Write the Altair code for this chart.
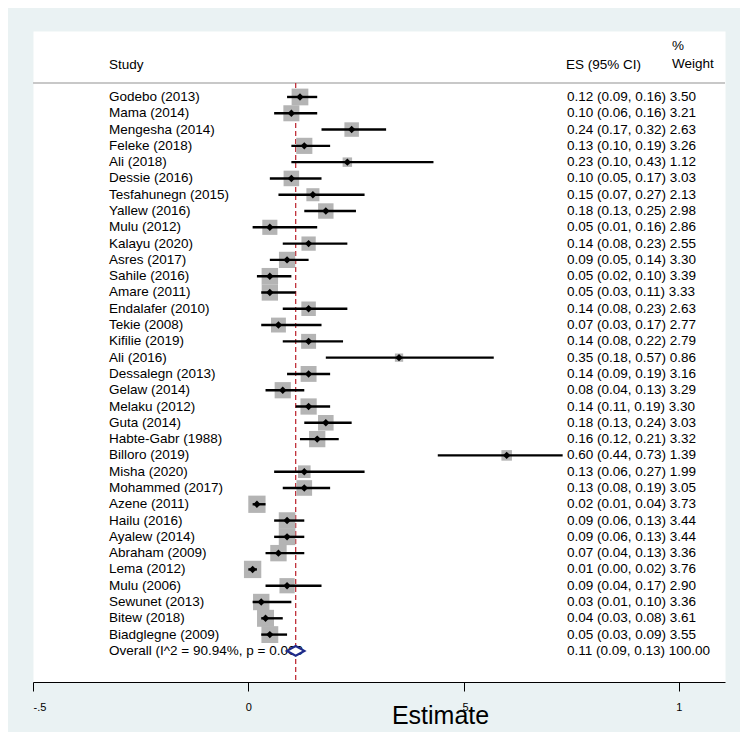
import altair as alt
import pandas as pd

studies = ["Godebo (2013)", "Mama (2014)", "Mengesha (2014)", "Feleke (2018)", "Ali (2018)",
           "Dessie (2016)", "Tesfahunegn  (2015)", "Yallew (2016)", "Mulu (2012)", "Kalayu (2020)",
           "Asres (2017)", "Sahile (2016)", "Amare (2011)", "Endalafer (2010)", "Tekie (2008)",
           "Kifilie  (2019)", "Ali (2016)", "Dessalegn (2013)", "Gelaw (2014)", "Melaku  (2012)",
           "Guta (2014)", "Habte-Gabr (1988)", "Billoro (2019)", "Misha (2020)", "Mohammed (2017)",
           "Azene (2011)", "Hailu (2016)", "Ayalew (2014)", "Abraham (2009)", "Lema (2012)",
           "Mulu (2006)", "Sewunet (2013)", "Bitew (2018)", "Biadglegne (2009)"]
es = [0.12, 0.10, 0.24, 0.13, 0.23, 0.10, 0.15, 0.18, 0.05, 0.14,
      0.09, 0.05, 0.05, 0.14, 0.07, 0.14, 0.35, 0.14, 0.08, 0.14,
      0.18, 0.16, 0.60, 0.13, 0.13, 0.02, 0.09, 0.09, 0.07, 0.01,
      0.09, 0.03, 0.04, 0.05]
lo = [0.09, 0.06, 0.17, 0.10, 0.10, 0.05, 0.07, 0.13, 0.01, 0.08,
      0.05, 0.02, 0.03, 0.08, 0.03, 0.08, 0.18, 0.09, 0.04, 0.11,
      0.13, 0.12, 0.44, 0.06, 0.08, 0.01, 0.06, 0.06, 0.04, 0.00,
      0.04, 0.01, 0.03, 0.03]
hi = [0.16, 0.16, 0.32, 0.19, 0.43, 0.17, 0.27, 0.25, 0.16, 0.23,
      0.14, 0.10, 0.11, 0.23, 0.17, 0.22, 0.57, 0.19, 0.13, 0.19,
      0.24, 0.21, 0.73, 0.27, 0.19, 0.04, 0.13, 0.13, 0.13, 0.02,
      0.17, 0.10, 0.08, 0.09]
wt = [3.50, 3.21, 2.63, 3.26, 1.12, 3.03, 2.13, 2.98, 2.86, 2.55,
      3.30, 3.39, 3.33, 2.63, 2.77, 2.79, 0.86, 3.16, 3.29, 3.30,
      3.03, 3.32, 1.39, 1.99, 3.05, 3.73, 3.44, 3.44, 3.36, 3.76,
      2.90, 3.36, 3.61, 3.55]

overall_label = "Overall  (I^2 = 90.94%, p = 0.000"
overall_es, overall_lo, overall_hi, overall_wt = 0.11, 0.09, 0.13, 100.00

tick_values = [-0.5, 0, 0.5, 1]
tick_labels = ["-.5", "0", ".5", "1"]

# ---- tables
df = pd.DataFrame({"study": studies, "es": es, "lo": lo, "hi": hi, "wt": wt,
                   "row": list(range(len(studies)))})
ov = pd.DataFrame({"study": [overall_label], "es": [overall_es], "lo": [overall_lo],
                   "hi": [overall_hi], "wt": [overall_wt], "row": [len(studies)]})
allrows = pd.concat([df, ov], ignore_index=True)
allrows["estxt"] = [f"{a:.2f} ({b:.2f}, {c:.2f}) {d:.2f}" for a, b, c, d in
                    zip(allrows["es"], allrows["lo"], allrows["hi"], allrows["wt"])]

W, H = 692, 651
FONT = "Liberation Sans"
TXT = "#000000"
FS = 13.5

label_expr = " : ".join(
    [f"datum.value == {v} ? '{l}'" for v, l in zip(tick_values[:-1], tick_labels[:-1])]
) + f" : '{tick_labels[-1]}'"

xscale = alt.Scale(domain=[-0.5, 1.107], nice=False, zero=False)
yscale = alt.Scale(domain=[-4.05, 35.91], nice=False, zero=False, reverse=True)
xaxis = alt.Axis(values=tick_values, labelExpr=label_expr, grid=False,
                 domainColor="black", domainWidth=1, tickColor="black", tickSize=9,
                 tickWidth=1, labelFont=FONT, labelFontSize=11, labelColor="black",
                 labelPadding=10, title="Estimate", titleFont=FONT, titleFontSize=25,
                 titleFontWeight="normal", titleColor="black", titleX=407, titleY=33,
                 titleBaseline="middle", titleAlign="center")


def X(field):
    return alt.X(field, type="quantitative", scale=xscale, axis=xaxis)


Y = alt.Y("row:Q", scale=yscale, axis=None)

header_rule = alt.Chart(pd.DataFrame({"a": [0]})).mark_rule(
    color="#c8c8c8", strokeWidth=2).encode(
    x=alt.value(0), x2=alt.value(W), y=alt.value(52))

ref_line = alt.Chart(ov).mark_rule(color="#c0303a", strokeWidth=1.3, strokeDash=[5, 3]).encode(
    x=X("es"), y=alt.value(52), y2=alt.value(H))

squares = alt.Chart(df).mark_square(color="#b4b4b4", opacity=1).encode(
    x=X("es"), y=Y,
    size=alt.Size("wt:Q", scale=alt.Scale(domain=[0, 4], range=[0, 320]), legend=None))

ci = alt.Chart(df).mark_rule(color="black", strokeWidth=2.4).encode(
    x=X("lo"), x2="hi:Q", y=Y)

pts = alt.Chart(df).mark_point(shape="diamond", filled=True, size=55, color="black",
                               opacity=1).encode(x=X("es"), y=Y)

labels = alt.Chart(allrows).mark_text(align="left", baseline="middle", fontSize=FS,
                                      font=FONT, color=TXT).encode(
    x=alt.value(76), y=Y, text="study:N")

estext = alt.Chart(allrows).mark_text(align="left", baseline="middle", fontSize=FS,
                                      font=FONT, color=TXT).encode(
    x=alt.value(534), y=Y, text="estxt:N")

diamond = alt.Chart(ov).mark_point(shape="M-1,0L0,-0.55L1,0L0,0.55Z", size=300, filled=True,
                                   fill="white", stroke="#1f2a8a", strokeWidth=2.2,
                                   opacity=1).encode(x=X("es"), y=Y)


def htext(t, x, y):
    return alt.Chart(pd.DataFrame({"t": [t]})).mark_text(
        align="left", baseline="middle", fontSize=FS, font=FONT, color=TXT).encode(
        x=alt.value(x), y=alt.value(y), text="t:N")


headers = [htext("Study", 76, 34), htext("ES (95% CI)", 533, 34),
           htext("%", 639, 15), htext("Weight", 639, 33)]

chart = alt.layer(header_rule, ref_line, squares, ci, pts, labels, estext, diamond,
                  *headers).properties(
    width=W, height=H,
    autosize=alt.AutoSizeParams(type="none"),
    padding={"left": 25, "top": 23, "right": 15, "bottom": 50},
    background="#eaf2f3",
).configure_view(fill="white", stroke="transparent")

chart.save("out.html", embed_options={"renderer": "svg", "actions": False})
